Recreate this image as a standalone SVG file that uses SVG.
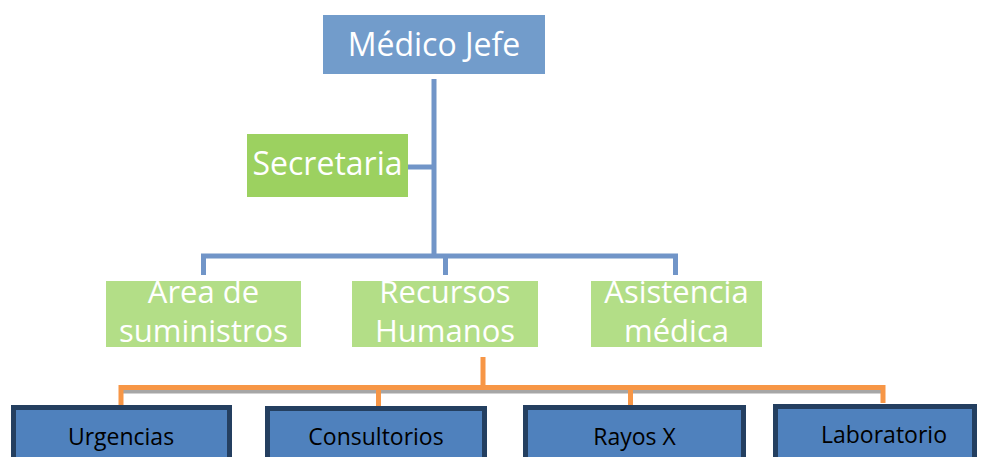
<svg xmlns="http://www.w3.org/2000/svg" width="982" height="457" viewBox="0 0 982 457">
<style>
.wt{font-family:"Open Sans","Noto Sans","Liberation Sans",sans-serif;fill:#ffffff;text-anchor:middle}
.bt{font-family:"Open Sans","Noto Sans","Liberation Sans",sans-serif;fill:#000000;text-anchor:middle;font-size:23px}
.blue{fill:none;stroke:#7195C8;stroke-width:5}
.orange{fill:none;stroke:#F79646;stroke-width:5}
.shadow{fill:none;stroke:#A6A6A6;stroke-width:5}
.g1{fill:#9CD160}
.g2{fill:#B3DE87}
.nb{fill:#4F81BD;stroke:#243F60;stroke-width:5}
</style>
<rect width="982" height="457" fill="#ffffff"/>
<g id="connectors">
<path class="blue" d="M434 79 V256 M408 167 H434 M203.5 275 V256 H675.5 V275 M445.5 256 V275"/>
<path class="shadow" d="M121 391 H883"/>
<path class="orange" d="M483 357 V387.5 M121 407 V387.5 H883 V403 M378.5 387.5 V407 M630.5 387.5 V407"/>
</g>
<g id="medico-jefe">
<rect x="323" y="15" width="222" height="59" fill="#729CCB"/>
<text class="wt" x="434" y="56" font-size="32">Médico Jefe</text>
</g>
<g id="secretaria">
<rect class="g1" x="247" y="134" width="161" height="63"/>
<text class="wt" x="327.5" y="175" font-size="32">Secretaria</text>
</g>
<g id="area-suministros">
<rect class="g2" x="106" y="281" width="195" height="66"/>
<text class="wt" x="203.5" y="303" font-size="31">Area de</text>
<text class="wt" x="203.5" y="342" font-size="31">suministros</text>
</g>
<g id="recursos-humanos">
<rect class="g2" x="352" y="281" width="186" height="66"/>
<text class="wt" x="445" y="303" font-size="31">Recursos</text>
<text class="wt" x="445" y="342" font-size="31">Humanos</text>
</g>
<g id="asistencia-medica">
<rect class="g2" x="591" y="281" width="171" height="66"/>
<text class="wt" x="676.5" y="303" font-size="31">Asistencia</text>
<text class="wt" x="676.5" y="342" font-size="31">médica</text>
</g>
<g id="urgencias">
<rect class="nb" x="13.5" y="407.5" width="216" height="60"/>
<text class="bt" x="121" y="445">Urgencias</text>
</g>
<g id="consultorios">
<rect class="nb" x="267.5" y="408.5" width="217" height="60"/>
<text class="bt" x="376" y="445">Consultorios</text>
</g>
<g id="rayos-x">
<rect class="nb" x="525.5" y="407.5" width="218" height="60"/>
<text class="bt" x="634.5" y="445">Rayos X</text>
</g>
<g id="laboratorio">
<rect class="nb" x="775.5" y="406.5" width="199" height="60"/>
<text class="bt" x="884" y="443">Laboratorio</text>
</g>
</svg>
